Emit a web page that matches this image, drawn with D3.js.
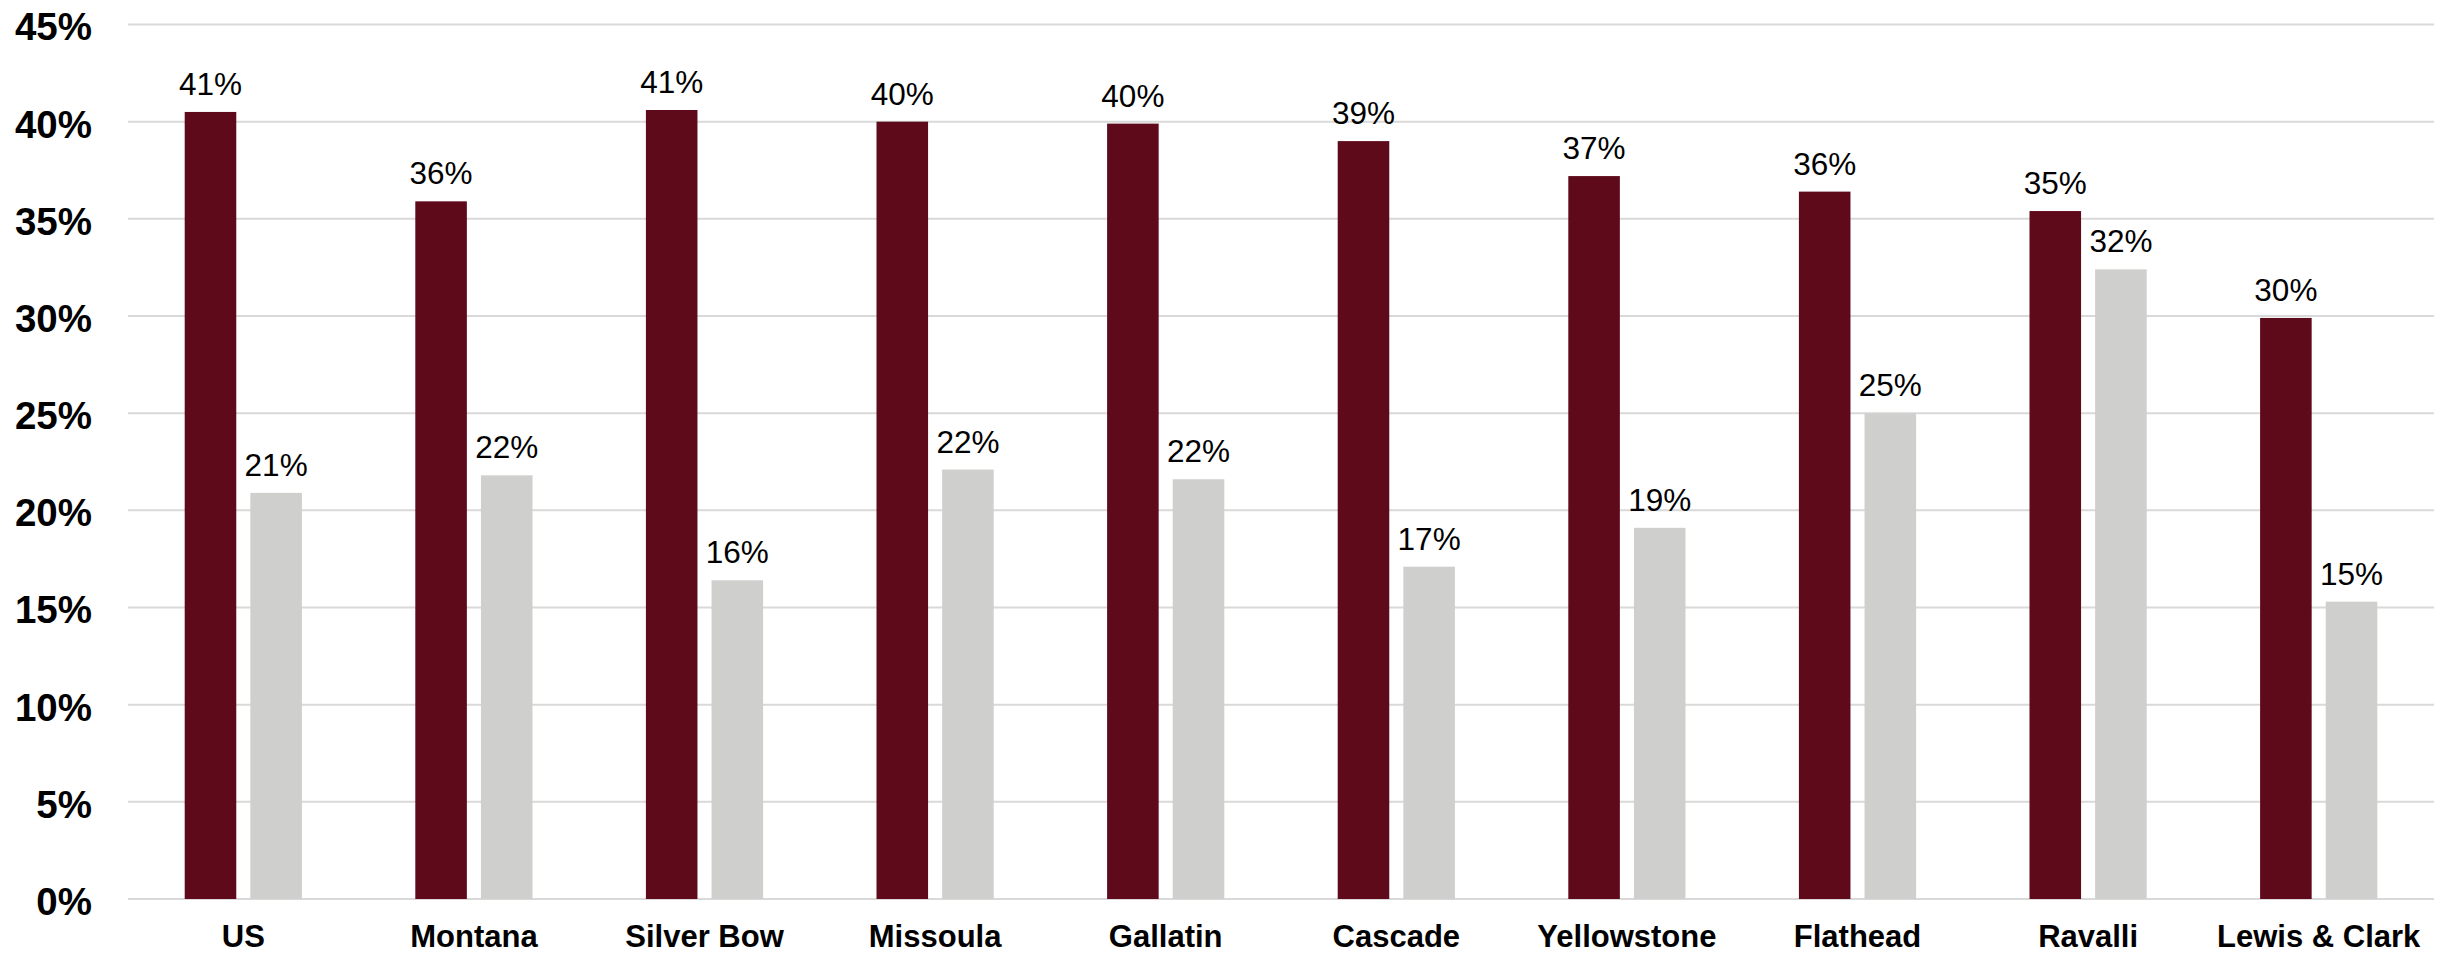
<!DOCTYPE html>
<html>
<head>
<meta charset="utf-8">
<script src="https://cdn.jsdelivr.net/npm/d3@7"></script>
<style>
  html, body { margin: 0; padding: 0; background: #ffffff; }
  svg { display: block; }
</style>
</head>
<body>
<svg id="chart" width="2453" height="953"></svg>
<script>
// Categories and the two series of percentages
const categories = ["US", "Montana", "Silver Bow", "Missoula", "Gallatin", "Cascade", "Yellowstone", "Flathead", "Ravalli", "Lewis & Clark"];
const valuesFirst  = [40.5, 35.9, 40.6, 40.0, 39.9, 39.0, 37.2, 36.4, 35.4, 29.9];
const valuesSecond = [20.9, 21.8, 16.4, 22.1, 21.6, 17.1, 19.1, 25.0, 32.4, 15.3];
const yTicks = [0, 5, 10, 15, 20, 25, 30, 35, 40, 45];

const seriesKeys = ["first", "second"];
const colors = { first: "#5e0a1b", second: "#cfcfcd" };

const rows = categories.map((c, i) => ({ category: c, first: valuesFirst[i], second: valuesSecond[i] }));

const svg = d3.select("#chart");
const plotLeft = 128, plotRight = 2434, plotTop = 24.5, plotBottom = 899;

const y = d3.scaleLinear().domain([0, 45]).range([plotBottom, plotTop]);
const x0 = d3.scaleBand().domain(categories).range([plotLeft, plotRight]).padding(0);
const inset = 56.7;
const x1 = d3.scaleBand().domain(seriesKeys)
  .range([inset, x0.bandwidth() - inset])
  .paddingInner(0.2144).paddingOuter(0);

// Horizontal gridlines
svg.append("g")
  .selectAll("line")
  .data(yTicks)
  .join("line")
  .attr("x1", plotLeft).attr("x2", plotRight)
  .attr("y1", d => y(d)).attr("y2", d => y(d))
  .attr("stroke", "#d9d9d9")
  .attr("stroke-width", 2);

// Y axis labels
const yAxis = d3.axisLeft(y).tickValues(yTicks).tickFormat(d => d + "%").tickSize(0).tickPadding(0);
const gy = svg.append("g").attr("transform", "translate(92,0)").call(yAxis);
gy.select(".domain").remove();
gy.selectAll("text")
  .attr("font-family", "'Liberation Sans', Arial, sans-serif")
  .attr("font-weight", "bold")
  .attr("font-size", 38.5)
  .attr("fill", "#000")
  .attr("dy", "0.4em");

// X axis labels
const xAxis = d3.axisBottom(x0).tickSize(0).tickPadding(0);
const gx = svg.append("g").attr("transform", `translate(0,${plotBottom})`).call(xAxis);
gx.select(".domain").remove();
gx.selectAll("text")
  .attr("font-family", "'Liberation Sans', Arial, sans-serif")
  .attr("font-weight", "bold")
  .attr("font-size", 31)
  .attr("fill", "#000")
  .attr("dy", 0)
  .attr("y", 48);

// Bars
const groups = svg.append("g")
  .selectAll("g")
  .data(rows)
  .join("g")
  .attr("transform", d => `translate(${x0(d.category)},0)`);

groups.selectAll("rect")
  .data(d => seriesKeys.map(k => ({ key: k, value: d[k] })))
  .join("rect")
  .attr("x", d => x1(d.key))
  .attr("width", x1.bandwidth())
  .attr("y", d => y(d.value))
  .attr("height", d => y(0) - y(d.value))
  .attr("fill", d => colors[d.key]);

// Value labels above bars
const fmt = d3.format(".0f");
groups.selectAll("text.value")
  .data(d => seriesKeys.map(k => ({ key: k, value: d[k] })))
  .join("text")
  .attr("class", "value")
  .attr("x", d => x1(d.key) + x1.bandwidth() / 2)
  .attr("y", d => y(d.value) - 17)
  .attr("text-anchor", "middle")
  .attr("font-family", "'Liberation Sans', Arial, sans-serif")
  .attr("font-size", 31.5)
  .attr("fill", "#000")
  .text(d => fmt(d.value) + "%");
</script>
</body>
</html>
